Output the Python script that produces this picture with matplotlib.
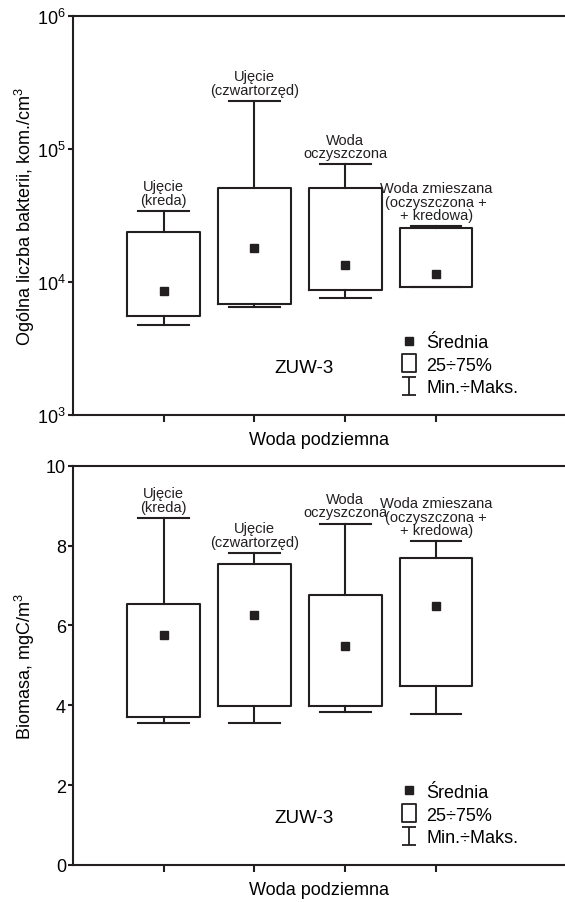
import numpy as np
import matplotlib
matplotlib.use("Agg")
import matplotlib.pyplot as plt
from matplotlib.lines import Line2D
from matplotlib.path import Path

plt.rcParams['font.family'] = ['Liberation Sans', 'DejaVu Sans']
plt.rcParams['mathtext.fontset'] = 'custom'
plt.rcParams['mathtext.rm'] = 'Liberation Sans'
plt.rcParams['mathtext.it'] = 'Liberation Sans:italic'

# Data
categories = ['Ujęcie\n(kreda)', 'Ujęcie\n(czwartorzęd)', 'Woda\noczyszczona',
              'Woda zmieszana\n(oczyszczona +\n+ kredowa)']
positions = [1, 2, 3, 4]

# bacteria count, kom./cm3 (log scale)
bact_min = [4740, 6460, 7510, 9100]
bact_q1 = [5520, 6780, 8690, 9100]
bact_q3 = [23900, 50700, 50700, 25300]
bact_max = [34100, 229000, 76300, 26200]
bact_mean = [8550, 18100, 13400, 11500]

# biomass, mgC/m3
bio_min = [3.55, 3.55, 3.84, 3.77]
bio_q1 = [3.71, 3.99, 3.97, 4.49]
bio_q3 = [6.53, 7.54, 6.75, 7.69]
bio_max = [8.69, 7.82, 8.55, 8.11]
bio_mean = [5.76, 6.27, 5.48, 6.48]

legend_labels = ['Średnia', '25÷75%', 'Min.÷Maks.']
station = 'ZUW-3'
xlabel = 'Woda podziemna'

LW = 1.5
INK = '#231f20'

# legend glyphs
box_icon = Path([(-0.38, -0.5), (0.38, -0.5), (0.38, 0.5), (-0.38, 0.5), (-0.38, -0.5)],
                [Path.MOVETO, Path.LINETO, Path.LINETO, Path.LINETO, Path.CLOSEPOLY])
whisker_icon = Path([(-0.38, -0.5), (0.38, -0.5), (0, -0.5), (0, 0.5), (-0.38, 0.5), (0.38, 0.5)],
                    [Path.MOVETO, Path.LINETO, Path.MOVETO, Path.LINETO, Path.MOVETO, Path.LINETO])


def draw_panel(ax, mins, q1, q3, maxs, means):
    stats = []
    for i in range(len(categories)):
        stats.append(dict(med=q1[i], q1=q1[i], q3=q3[i], whislo=mins[i],
                          whishi=maxs[i], mean=means[i], fliers=[]))
    ax.bxp(stats, positions=positions, widths=0.8, capwidths=0.56,
           showmeans=True, showfliers=False,
           boxprops=dict(color=INK, linewidth=LW),
           whiskerprops=dict(color=INK, linewidth=LW),
           capprops=dict(color=INK, linewidth=LW),
           medianprops=dict(linewidth=0),
           meanprops=dict(marker='s', markerfacecolor=INK,
                          markeredgecolor=INK, markersize=6.3))
    for p, top, lab in zip(positions, maxs, categories):
        ax.annotate(lab, xy=(p, top), xytext=(0, 3), textcoords='offset points',
                    ha='center', va='bottom', fontsize=10.5, linespacing=0.95,
                    color=INK)

    ax.set_xlim(0, 5.42)
    ax.set_xticks(positions)
    ax.set_xticklabels([])
    ax.tick_params(axis='x', direction='out', length=5, width=LW, color=INK)
    ax.tick_params(axis='y', direction='out', length=3.5, width=LW, color=INK,
                   labelsize=13, pad=1.5)
    ax.spines['right'].set_visible(False)
    for s in ['left', 'top', 'bottom']:
        ax.spines[s].set_linewidth(LW)
        ax.spines[s].set_color(INK)
    ax.set_xlabel(xlabel, fontsize=13, labelpad=3)

    ax.text(0.47, 0.12, station, transform=ax.transAxes, fontsize=13.5,
            ha='center', va='center')
    handles = [
        Line2D([], [], linestyle='none', marker='s', markersize=6,
               markerfacecolor=INK, markeredgecolor=INK),
        Line2D([], [], linestyle='none', marker=box_icon, markersize=12.5,
               markerfacecolor='white', markeredgecolor=INK, markeredgewidth=1.3),
        Line2D([], [], linestyle='none', marker=whisker_icon, markersize=12.5,
               markerfacecolor='none', markeredgecolor=INK, markeredgewidth=1.3),
    ]
    ax.legend(handles, legend_labels, loc='center left', bbox_to_anchor=(0.665, 0.125),
              frameon=False, fontsize=13, handlelength=1.0, handletextpad=0.45,
              labelspacing=0.32, borderpad=0, borderaxespad=0)


fig = plt.figure(figsize=(5.65, 9.03), dpi=100)
ax1 = fig.add_axes([0.129, 0.5393, 0.871, 0.4422])
ax2 = fig.add_axes([0.129, 0.041, 0.871, 0.4422])

ax1.set_yscale('log')
draw_panel(ax1, bact_min, bact_q1, bact_q3, bact_max, bact_mean)
ax1.set_ylim(1e3, 1e6)
ax1.set_yticks([1e3, 1e4, 1e5, 1e6])
ax1.yaxis.set_minor_locator(matplotlib.ticker.NullLocator())
ax1.set_ylabel('Ogólna liczba bakterii, kom./cm$^{3}$', fontsize=13, labelpad=0)

draw_panel(ax2, bio_min, bio_q1, bio_q3, bio_max, bio_mean)
ax2.set_ylim(0, 10)
ax2.set_yticks([0, 2, 4, 6, 8, 10])
ax2.set_ylabel('Biomasa, mgC/m$^{3}$', fontsize=13, labelpad=6)

fig.savefig('out.png', dpi=100)
